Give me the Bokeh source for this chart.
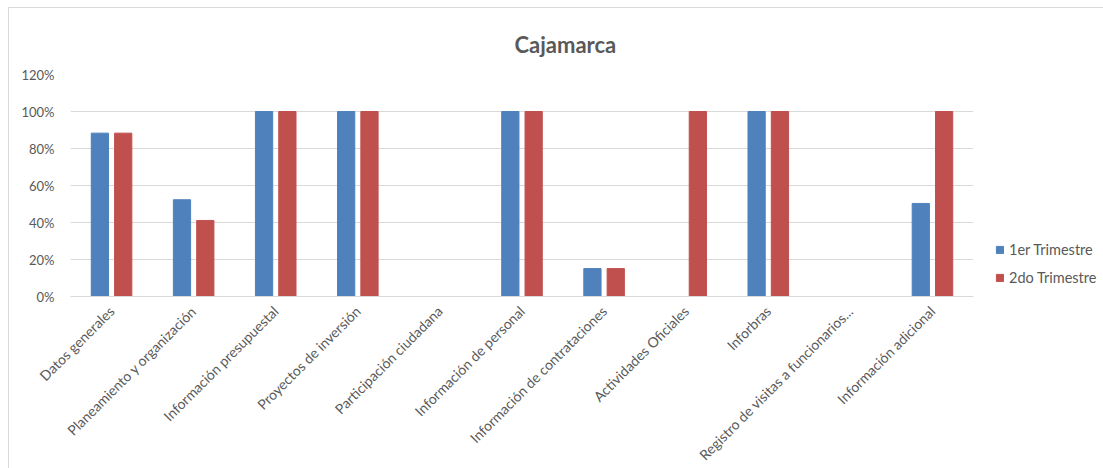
from bokeh.plotting import figure
from bokeh.models import (ColumnDataSource, FactorRange, FixedTicker, NumeralTickFormatter,
                          Legend, LegendItem, Range1d)
from bokeh.transform import dodge
from bokeh.embed import file_html
from bokeh.resources import INLINE

categories = ["Datos generales", "Planeamiento y organización", "Información presupuestal",
              "Proyectos de inversión", "Participación ciudadana", "Información de personal",
              "Información de contrataciones", "Actividades Oficiales", "Inforbras",
              "Registro de visitas a funcionarios...", "Información adicional"]
trim1 = [0.883, 0.523, 1.0, 1.0, 0.0, 1.0, 0.151, 0.0, 1.0, 0.0, 0.503]
trim2 = [0.883, 0.411, 1.0, 1.0, 0.0, 1.0, 0.151, 1.0, 1.0, 0.0, 1.0]
series_names = ["1er Trimestre", "2do Trimestre"]
y_ticks = [0, 0.2, 0.4, 0.6, 0.8, 1.0, 1.2]

FONT = "Lato"
GREY = "#595959"

src = ColumnDataSource(dict(cat=categories, t1=trim1, t2=trim2))

p = figure(x_range=FactorRange(*categories), y_range=Range1d(0, 1.2),
           frame_width=903, frame_height=222, output_backend="svg", toolbar_location=None,
           min_border_left=61, min_border_right=128, min_border_top=66, min_border_bottom=166)
p.styles = {"border": "1px solid #d9d9d9", "margin-left": "8px", "margin-top": "7px"}

r1 = p.vbar(x=dodge("cat", -0.142, range=p.x_range), top="t1", width=0.21, source=src,
            fill_color="#4F81BD", line_color="#4F81BD")
r2 = p.vbar(x=dodge("cat", 0.142, range=p.x_range), top="t2", width=0.21, source=src,
            fill_color="#C0504D", line_color="#C0504D")

p.title.text = "Cajamarca"
p.title.align = "left"
p.title.offset = 444
p.title.text_font = FONT
p.title.text_font_size = "22px"
p.title.text_font_style = "bold"
p.title.text_color = GREY
p.title.standoff = 34

p.outline_line_color = None
p.xgrid.grid_line_color = None
p.ygrid.grid_line_color = "#d9d9d9"
p.ygrid.grid_line_width = 1
p.yaxis.ticker = FixedTicker(ticks=y_ticks)
p.yaxis.formatter = NumeralTickFormatter(format="0%")
p.yaxis.axis_line_color = None
p.yaxis.major_tick_line_color = None
p.yaxis.minor_tick_line_color = None
p.yaxis.major_label_text_font = FONT
p.yaxis.major_label_text_font_size = "13px"
p.yaxis.major_label_text_color = GREY
p.yaxis.major_label_standoff = 10

p.xaxis.axis_line_color = "#d9d9d9"
p.xaxis.major_tick_line_color = None
p.xaxis.minor_tick_line_color = None
p.xaxis.major_label_orientation = 0.785398
p.xaxis.major_label_text_font = FONT
p.xaxis.major_label_text_font_size = "14px"
p.xaxis.major_label_text_color = GREY
p.xaxis.major_label_standoff = 6

legend = Legend(items=[LegendItem(label=series_names[0], renderers=[r1]),
                       LegendItem(label=series_names[1], renderers=[r2])],
                location=(22, 10), orientation="vertical")
legend.border_line_color = None
legend.background_fill_alpha = 0
legend.label_text_font = FONT
legend.label_text_font_size = "14.5px"
legend.label_text_color = GREY
legend.glyph_width = 9
legend.glyph_height = 9
legend.label_standoff = 5
legend.spacing = 11
legend.margin = 0
legend.padding = 8
p.add_layout(legend, "right")

open("out.html", "w").write(file_html(p, INLINE))
